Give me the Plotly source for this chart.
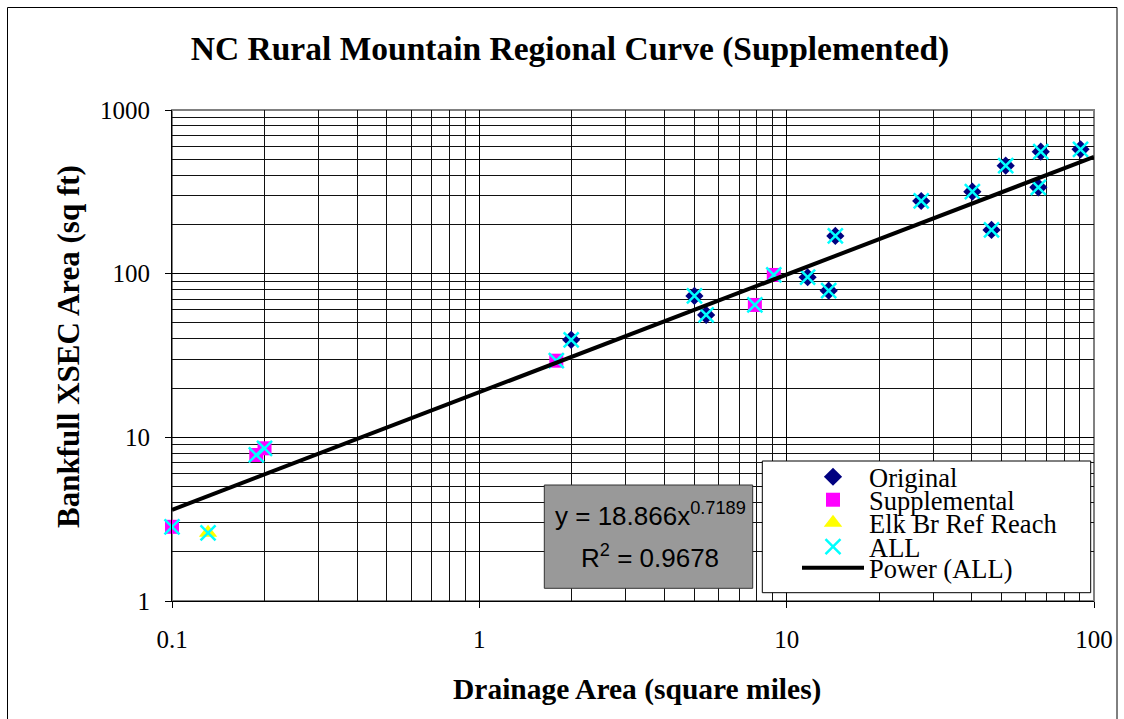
import plotly.graph_objects as go

# ---- data ----
original_x = [1.99, 5.01, 5.47, 11.7, 13.7, 14.4, 27.4, 40.2, 46.4, 51.6, 65.9, 67.1, 90.4]
original_y = [39.4, 73.1, 56.0, 95.1, 78.7, 170, 278, 317, 185, 457, 337, 556, 575]
supp_x = [0.1, 0.188, 0.2, 1.78, 7.88, 9.08]
supp_y = [2.84, 7.8, 8.57, 29.4, 64.4, 98.2]
elk_x = [0.131]
elk_y = [2.61]
all_x = original_x + supp_x + elk_x
all_y = original_y + supp_y + elk_y

# power trendline as shown on the chart: y = a * x^b
trend_a = 18.866
trend_b = 0.7189
trend_r2 = 0.9678
trend_span = [0.1, 100]
trend_y = [trend_a * v ** trend_b for v in trend_span]

x_ticks = [0.1, 1, 10, 100]
x_ticktext = ["0.1", "1", "10", "100"]
y_ticks = [1, 10, 100, 1000]
y_ticktext = ["1", "10", "100", "1000"]

title = "NC Rural Mountain Regional Curve (Supplemented)"
x_title = "Drainage Area (square miles)"
y_title = "Bankfull XSEC Area (sq ft)"

SERIF = "Liberation Serif, Times New Roman, serif"
SANS = "Liberation Sans, Arial, sans-serif"

fig = go.Figure()
fig.add_trace(go.Scatter(x=original_x, y=original_y, mode="markers", name="Original",
                         marker=dict(symbol="diamond", size=14, color="#000080"),
                         cliponaxis=False, legend="legend"))
fig.add_trace(go.Scatter(x=supp_x, y=supp_y, mode="markers", name="Supplemental",
                         marker=dict(symbol="square", size=14, color="#FF00FF"),
                         cliponaxis=False, legend="legend2"))
fig.add_trace(go.Scatter(x=elk_x, y=elk_y, mode="markers", name="Elk Br Ref Reach",
                         marker=dict(symbol="triangle-up", size=16, color="#FFFF00"),
                         cliponaxis=False, legend="legend3"))
fig.add_trace(go.Scatter(x=all_x, y=all_y, mode="markers", name="ALL",
                         marker=dict(symbol="x-thin", size=15, color="#00FFFF",
                                     line=dict(color="#00FFFF", width=2.5)),
                         cliponaxis=False, legend="legend4"))
fig.add_trace(go.Scatter(x=trend_span, y=trend_y, mode="lines", name="Power (ALL)",
                         line=dict(color="black", width=4), legend="legend5"))

L, R, T, B = 172, 1094, 110, 601
W, H = R - L, B - T


def px(xp):
    return (xp - L) / W


def py(yp):
    return (B - yp) / H


shapes = [
    # outer chart border
    dict(type="rect", xref="paper", yref="paper", x0=px(7.5), x1=px(1117), y0=py(740), y1=py(7.5),
         line=dict(color="black", width=1), fillcolor="rgba(0,0,0,0)", layer="below"),
    # plot area border (gray)
    dict(type="rect", xref="paper", yref="paper", x0=0, x1=1, y0=0, y1=1,
         line=dict(color="#808080", width=2), fillcolor="rgba(0,0,0,0)", layer="below"),
    # equation box
    dict(type="rect", xref="paper", yref="paper", x0=px(544.3), x1=px(752.7), y0=py(588.3), y1=py(485),
         line=dict(color="#333333", width=1), fillcolor="#999999", layer="above"),
    # legend box
    dict(type="rect", xref="paper", yref="paper", x0=px(762.3), x1=px(1090.7), y0=py(592.7), y1=py(461),
         line=dict(color="black", width=1), fillcolor="white", layer="above"),
]

annotations = [
    dict(xref="paper", yref="paper", x=px(650), y=py(514), xanchor="center", yanchor="middle",
         text=f"y = {trend_a}x<sup>{trend_b}</sup>", showarrow=False,
         font=dict(family=SANS, size=26, color="black")),
    dict(xref="paper", yref="paper", x=px(650), y=py(556), xanchor="center", yanchor="middle",
         text=f"R<sup>2</sup> = {trend_r2}", showarrow=False,
         font=dict(family=SANS, size=26, color="black")),
    # y-axis title
    dict(xref="paper", yref="paper", x=px(68), y=py(347), xanchor="center", yanchor="middle",
         text=f"<b>{y_title}</b>", textangle=-90, showarrow=False,
         font=dict(family=SERIF, size=31, color="black")),
    # x-axis title
    dict(xref="paper", yref="paper", x=px(637), y=py(689), xanchor="center", yanchor="middle",
         text=f"<b>{x_title}</b>", showarrow=False,
         font=dict(family=SERIF, size=29.5, color="black")),
]

legend_rows = [477, 500, 523, 547, 568]
legend_common = dict(xref="paper", yref="paper", x=px(797), xanchor="left", yanchor="middle",
                     bgcolor="rgba(0,0,0,0)", borderwidth=0, itemwidth=62, visible=True,
                     font=dict(family=SERIF, size=26.5, color="black"), itemsizing="trace")
legends = {}
for i, row in enumerate(legend_rows):
    key = "legend" if i == 0 else f"legend{i + 1}"
    legends[key] = dict(legend_common, y=py(row))

axis_common = dict(type="log", showline=True, linecolor="black", linewidth=1,
                   ticks="outside", ticklen=6, tickcolor="black", tickwidth=1,
                   showgrid=True, gridcolor="black", gridwidth=1, zeroline=False,
                   tickfont=dict(family=SERIF, size=25, color="black"),
                   minor=dict(dtick="D1", showgrid=True, gridcolor="#111111", gridwidth=1, ticks=""))

fig.update_layout(
    width=1124, height=719,
    margin=dict(l=L, r=1124 - R, t=T, b=719 - B),
    paper_bgcolor="white", plot_bgcolor="white",
    showlegend=True,
    title=dict(text=f"<b>{title}</b>", x=570 / 1124, xanchor="center", xref="container",
               y=1 - 48 / 719, yref="container", yanchor="middle",
               font=dict(family=SERIF, size=33.5, color="black")),
    xaxis=dict(axis_common, range=[-1, 2], tickmode="array", tickvals=x_ticks, ticktext=x_ticktext,
               ticklabelstandoff=10),
    yaxis=dict(axis_common, range=[0, 3], tickmode="array", tickvals=y_ticks, ticktext=y_ticktext,
               ticklabelstandoff=10),
    shapes=shapes,
    annotations=annotations,
    **legends,
)

fig.write_html("out.html", config={"displayModeBar": False},
               post_script="document.body.style.margin='0';")
